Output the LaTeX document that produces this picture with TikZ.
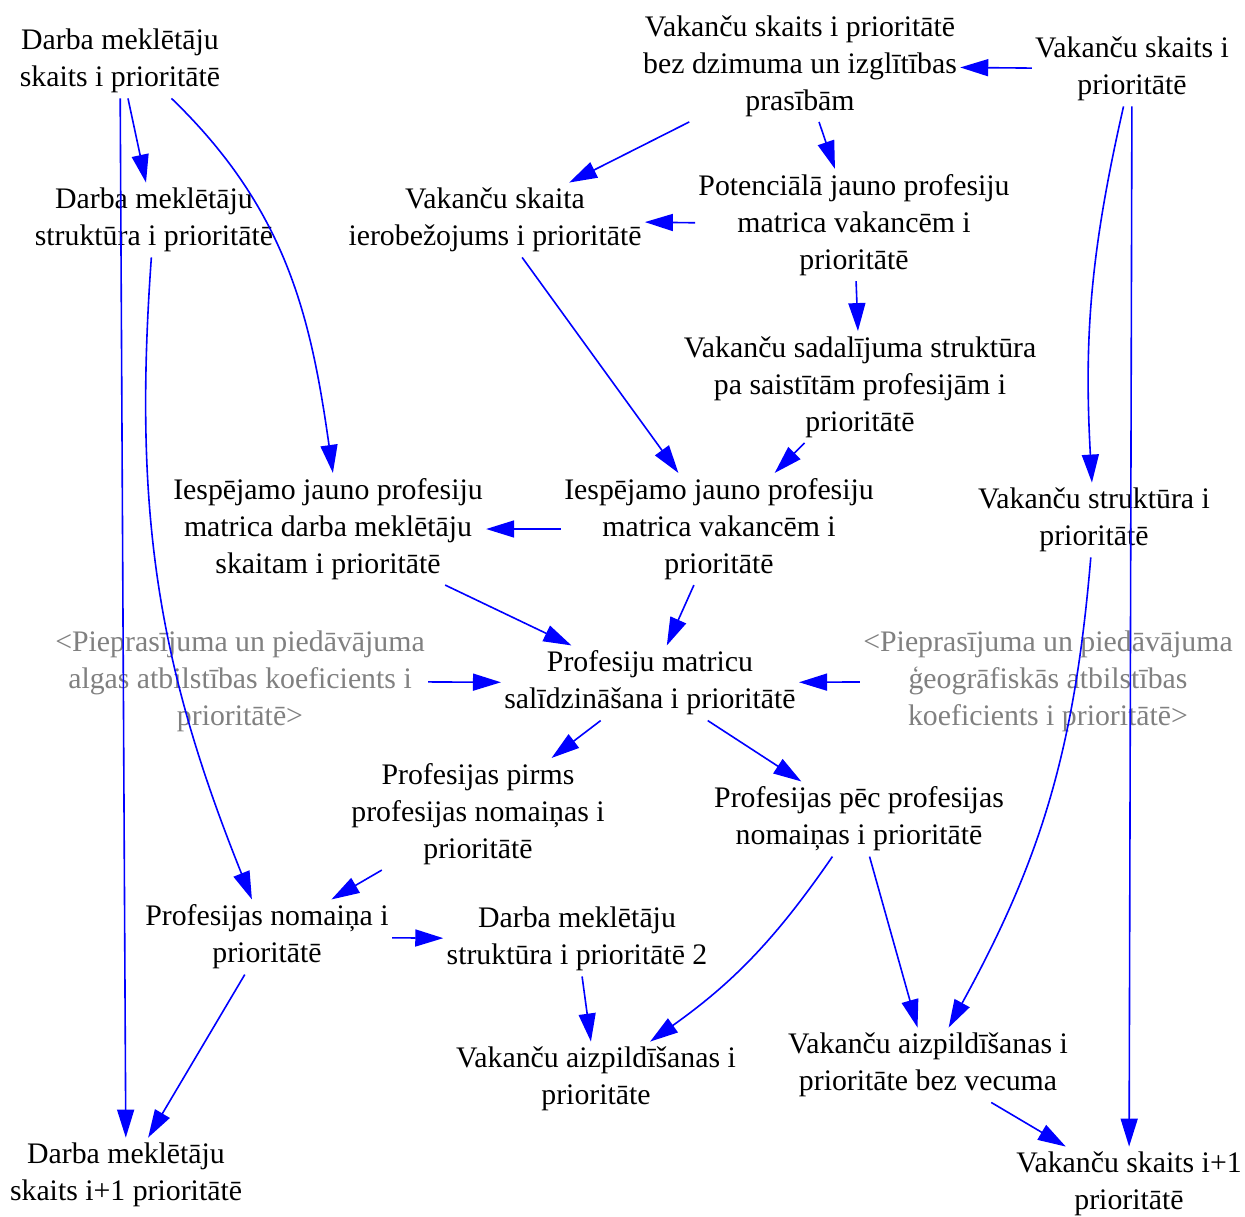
\documentclass[tikz,border=0pt]{standalone}
\usepackage{fontspec}
\setmainfont{Liberation Serif}
\usetikzlibrary{arrows.meta}
\definecolor{linkblue}{RGB}{0,0,255}
\definecolor{shadowgray}{RGB}{128,128,128}

\begin{document}
\begin{tikzpicture}[x=0.5pt,y=0.5pt,
  var/.style={align=center,inner xsep=1.5pt,inner ysep=2.5pt,
              font=\fontsize{14.9}{18.5}\selectfont},
  shadow/.style={var,text=shadowgray},
  link/.style={-{Triangle[length=14pt,width=8.5pt]},linkblue,line width=0.8pt}
]
\useasboundingbox (0,0) rectangle (1245,-1216);
\node[var] (seekers) at (120,-61) {Darba meklētāju\\skaits i prioritātē};
\node[var] (vacnoreq) at (800,-66)
  {Vakanču skaits i prioritātē\\bez dzimuma un izglītības\\prasībām};
\node[var] (vacancies) at (1132,-69) {Vakanču skaits i\\prioritātē};
\node[var] (seekstruct) at (154,-220) {Darba meklētāju\\struktūra i prioritātē};
\node[var] (vaclimit) at (495,-220) {Vakanču skaita\\ierobežojums i prioritātē};
\node[var] (potmatrix) at (854,-225)
  {Potenciālā jauno profesiju\\matrica vakancēm i\\prioritātē};
\node[var] (vacsplit) at (860,-387)
  {Vakanču sadalījuma struktūra\\pa saistītām profesijām i\\prioritātē};
\node[var] (seekmatrix) at (328,-529)
  {Iespējamo jauno profesiju\\matrica darba meklētāju\\skaitam i prioritātē};
\node[var] (vacmatrix) at (719,-529)
  {Iespējamo jauno profesiju\\matrica vakancēm i\\prioritātē};
\node[var] (vacstruct) at (1094,-520) {Vakanču struktūra i\\prioritātē};
\node[shadow] (wagecoef) at (240,-681)
  {<Pieprasījuma un piedāvājuma\\algas atbilstības koeficients i\\prioritātē>};
\node[var] (matchcmp) at (650,-683) {Profesiju matricu\\salīdzināšana i prioritātē};
\node[shadow] (geocoef) at (1048,-681)
  {<Pieprasījuma un piedāvājuma\\ģeogrāfiskās atbilstības\\koeficients i prioritātē>};
\node[var] (profbefore) at (478,-814)
  {Profesijas pirms\\profesijas nomaiņas i\\prioritātē};
\node[var] (profafter) at (859,-819) {Profesijas pēc profesijas\\nomaiņas i prioritātē};
\node[var] (profchange) at (267,-937) {Profesijas nomaiņa i\\prioritātē};
\node[var] (seekstruct2) at (577,-939) {Darba meklētāju\\struktūra i prioritātē 2};
\node[var] (vacfill) at (596,-1079) {Vakanču aizpildīšanas i\\prioritāte};
\node[var] (vacfillage) at (928,-1065) {Vakanču aizpildīšanas i\\prioritāte bez vecuma};
\node[var] (seekersnext) at (126,-1175) {Darba meklētāju\\skaits i+1 prioritātē};
\node[var] (vacanciesnext) at (1129,-1184) {Vakanču skaits i+1\\prioritātē};
\draw[link] (vacancies)--(vacnoreq);
\draw[link] (vacnoreq)--(vaclimit);
\draw[link] (vacnoreq)--(potmatrix);
\draw[link] (potmatrix)--(vaclimit);
\draw[link] (potmatrix)--(vacsplit);
\draw[link] (vacsplit)--(vacmatrix);
\draw[link] (vaclimit)--(vacmatrix);
\draw[link] (seekers)--(seekstruct);
\draw[link] (seekers.-36) to[out=-44,in=98] (seekmatrix.85);
\draw[link] (seekers)--(seekersnext);
\draw[link] (seekstruct) to[bend right=13] (profchange);
\draw[link] (vacancies) to[bend right=8] (vacstruct);
\draw[link] (vacancies)--(vacanciesnext);
\draw[link] (vacmatrix)--(seekmatrix);
\draw[link] (seekmatrix)--(matchcmp);
\draw[link] (vacmatrix)--(matchcmp);
\draw[link] (wagecoef)--(matchcmp);
\draw[link] (geocoef)--(matchcmp);
\draw[link] (matchcmp)--(profbefore);
\draw[link] (matchcmp)--(profafter);
\draw[link] (profbefore)--(profchange);
\draw[link] (profchange)--(seekstruct2);
\draw[link] (profchange)--(seekersnext);
\draw[link] (seekstruct2)--(vacfill);
\draw[link] (profafter) to[bend left=10] (vacfill);
\draw[link] (profafter)--(vacfillage);
\draw[link] (vacstruct) to[bend left=12] (vacfillage);
\draw[link] (vacfillage)--(vacanciesnext);
\end{tikzpicture}
\end{document}
